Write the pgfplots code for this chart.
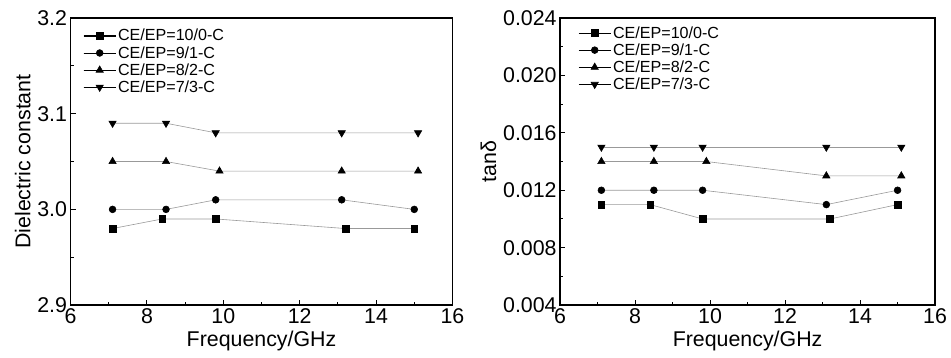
\documentclass[border=0pt]{standalone}
\usepackage{pgfplots}
\pgfplotsset{compat=1.18}
\usepackage{fontspec}
\setmainfont{Liberation Sans}
\begin{document}
\pgfplotsset{
  myax/.style={
    scale only axis, width=383bp, height=288bp,
    xmin=6, xmax=16, xtick={6,8,...,16}, minor x tick num=1,
    minor y tick num=1,
    tick align=inside, xtick pos=left, ytick pos=left,
    major tick length=5bp, minor tick length=3bp,
    axis line style={line width=1.5bp}, every tick/.style={black, line width=1bp},
    /pgf/number format/assume math mode=true,
    tick label style={font=\fontsize{21.5}{23}\selectfont},
    label style={font=\fontsize{21.5}{23}\selectfont},
    xlabel={Frequency/GHz},
    legend cell align=left,
  },
}
\begin{tikzpicture}
\path[use as bounding box] (0,0) rectangle (951bp,359bp);
\begin{axis}[myax, at={(68bp,53bp)}, anchor=south west,
  ymin=2.9, ymax=3.2, ytick={2.9,3.0,3.1,3.2},
  yticklabel style={/pgf/number format/.cd, fixed, fixed zerofill, precision=1},
  ylabel={Dielectric constant},
  legend style={draw=none, fill=none, font=\fontsize{16.2}{17}\selectfont, row sep=0bp,
    at={(0.025,0.975)}, anchor=north west}]
\addplot[draw=gray!80, line width=0.6bp, mark=square*, mark size=3.3bp, mark options={draw=black,fill=black},
  legend image code/.code={\draw[black,line width=0.9bp] (0bp,0bp)--(32bp,0bp);\draw[mark repeat=2,mark phase=2,black] plot coordinates {(0bp,0bp)(16bp,0bp)(32bp,0bp)};}]
  coordinates {(7.1,2.98)(8.4,2.99)(9.8,2.99)(13.2,2.98)(15.0,2.98)};
\addlegendentry{CE/EP=10/0-C}
\addplot[draw=gray!80, line width=0.6bp, mark=*, mark size=3.4bp, mark options={draw=black,fill=black},
  legend image code/.code={\draw[black,line width=0.9bp] (0bp,0bp)--(32bp,0bp);\draw[mark repeat=2,mark phase=2,black] plot coordinates {(0bp,0bp)(16bp,0bp)(32bp,0bp)};}]
  coordinates {(7.1,3.00)(8.5,3.00)(9.8,3.01)(13.1,3.01)(15.0,3.00)};
\addlegendentry{CE/EP=9/1-C}
\addplot[draw=gray!80, line width=0.6bp, mark=triangle*, mark size=4.2bp, mark options={draw=black,fill=black},
  legend image code/.code={\draw[black,line width=0.9bp] (0bp,0bp)--(32bp,0bp);\draw[mark repeat=2,mark phase=2,black] plot coordinates {(0bp,0bp)(16bp,0bp)(32bp,0bp)};}]
  coordinates {(7.1,3.05)(8.5,3.05)(9.9,3.04)(13.1,3.04)(15.1,3.04)};
\addlegendentry{CE/EP=8/2-C}
\addplot[draw=gray!80, line width=0.6bp, mark=triangle*, mark size=4.2bp, mark options={draw=black,fill=black,rotate=180},
  legend image code/.code={\draw[black,line width=0.9bp] (0bp,0bp)--(32bp,0bp);\draw[mark repeat=2,mark phase=2,black] plot coordinates {(0bp,0bp)(16bp,0bp)(32bp,0bp)};}]
  coordinates {(7.1,3.09)(8.5,3.09)(9.8,3.08)(13.1,3.08)(15.1,3.08)};
\addlegendentry{CE/EP=7/3-C}
\end{axis}
\begin{axis}[myax, at={(559bp,53bp)}, anchor=south west, width=376bp,
  ymin=0.004, ymax=0.024, ytick={0.004,0.008,...,0.0241},
  scaled y ticks=false,
  yticklabel style={/pgf/number format/.cd, fixed, fixed zerofill, precision=3},
  ylabel={tanδ},
  legend style={draw=none, fill=none, font=\fontsize{16.2}{17}\selectfont, row sep=0bp,
    at={(0.04,0.985)}, anchor=north west}]
\addplot[draw=gray!80, line width=0.6bp, mark=square*, mark size=3.3bp, mark options={draw=black,fill=black},
  legend image code/.code={\draw[black,line width=0.9bp] (0bp,0bp)--(32bp,0bp);\draw[mark repeat=2,mark phase=2,black] plot coordinates {(0bp,0bp)(16bp,0bp)(32bp,0bp)};}]
  coordinates {(7.1,0.011)(8.4,0.011)(9.8,0.010)(13.2,0.010)(15.0,0.011)};
\addlegendentry{CE/EP=10/0-C}
\addplot[draw=gray!80, line width=0.6bp, mark=*, mark size=3.4bp, mark options={draw=black,fill=black},
  legend image code/.code={\draw[black,line width=0.9bp] (0bp,0bp)--(32bp,0bp);\draw[mark repeat=2,mark phase=2,black] plot coordinates {(0bp,0bp)(16bp,0bp)(32bp,0bp)};}]
  coordinates {(7.1,0.012)(8.5,0.012)(9.8,0.012)(13.1,0.011)(15.0,0.012)};
\addlegendentry{CE/EP=9/1-C}
\addplot[draw=gray!80, line width=0.6bp, mark=triangle*, mark size=4.2bp, mark options={draw=black,fill=black},
  legend image code/.code={\draw[black,line width=0.9bp] (0bp,0bp)--(32bp,0bp);\draw[mark repeat=2,mark phase=2,black] plot coordinates {(0bp,0bp)(16bp,0bp)(32bp,0bp)};}]
  coordinates {(7.1,0.014)(8.5,0.014)(9.9,0.014)(13.1,0.013)(15.1,0.013)};
\addlegendentry{CE/EP=8/2-C}
\addplot[draw=gray!80, line width=0.6bp, mark=triangle*, mark size=4.2bp, mark options={draw=black,fill=black,rotate=180},
  legend image code/.code={\draw[black,line width=0.9bp] (0bp,0bp)--(32bp,0bp);\draw[mark repeat=2,mark phase=2,black] plot coordinates {(0bp,0bp)(16bp,0bp)(32bp,0bp)};}]
  coordinates {(7.1,0.015)(8.5,0.015)(9.8,0.015)(13.1,0.015)(15.1,0.015)};
\addlegendentry{CE/EP=7/3-C}
\end{axis}
\end{tikzpicture}
\end{document}
